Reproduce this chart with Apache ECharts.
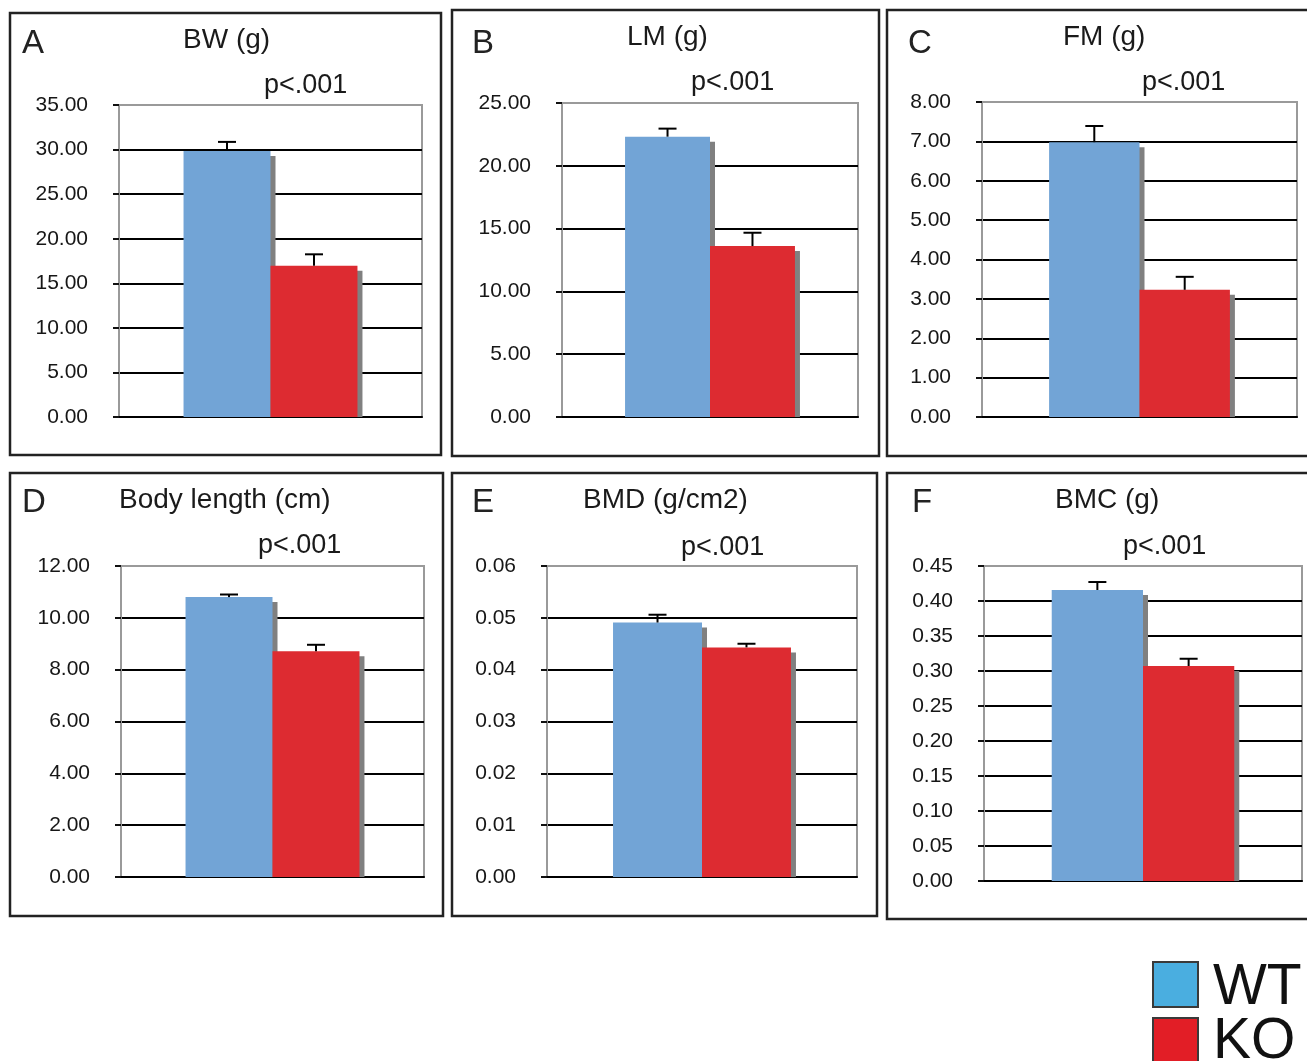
<!DOCTYPE html>
<html>
<head>
<meta charset="utf-8">
<script src="https://cdn.jsdelivr.net/npm/echarts@6/dist/echarts.min.js"></script>
<style>
html,body{margin:0;padding:0;background:#fff;}
#chart{width:1307px;height:1061px;}
</style>
</head>
<body>
<div id="chart"></div>
<script>
// ---- data ----
const panelLetters = ['A', 'B', 'C', 'D', 'E', 'F'];
const panelTitles = ['BW (g)', 'LM (g)', 'FM (g)', 'Body length (cm)', 'BMD (g/cm2)', 'BMC (g)'];
const pValueText = 'p<.001';
const groups = ['WT', 'KO'];
const wtMeans = [29.84, 22.32, 6.98, 10.80, 0.0491, 0.4157];
const wtErrors = [1.02, 0.64, 0.41, 0.10, 0.0015, 0.0114];
const koMeans = [16.97, 13.61, 3.23, 8.71, 0.0443, 0.3071];
const koErrors = [1.28, 1.06, 0.33, 0.25, 0.0007, 0.0104];
const yMaxes = [35, 25, 8, 12, 0.06, 0.45];
const yIntervals = [5, 5, 1, 2, 0.01, 0.05];

// ---- layout / style ----
const FONT = '"Liberation Sans", Arial, sans-serif';
const TXT = '#1a1a1a';
const WT_COLOR = '#72a4d6';
const KO_COLOR = '#dd2b31';
const SHADOW = '#808080';
const LEGEND_WT = '#4aaee0';
const LEGEND_KO = '#e21e26';
const BAR_FRAC = 0.287;

const grids = [
  {left: 119, top: 105, width: 303, height: 312},
  {left: 562, top: 103, width: 296, height: 314},
  {left: 982, top: 102, width: 315, height: 315},
  {left: 121, top: 566, width: 303, height: 311},
  {left: 547, top: 566, width: 310, height: 311},
  {left: 984, top: 566, width: 318, height: 315}
];
const boxes = [
  [10, 13, 431, 442], [452, 10, 427, 446], [887, 10, 440, 446],
  [10, 473, 433, 443], [452, 473, 425, 443], [887, 473, 440, 446]
];
const letterPos = [[22, 43.5], [472, 43.5], [908, 43.5], [22, 502.5], [472, 502.5], [912, 502.5]];
const titlePos = [[183, 40.5], [627, 37.5], [1063, 37.5], [119, 500.5], [583, 500.5], [1055, 500.5]];
const pPos = [[264, 85.5], [691, 82.5], [1142, 82.5], [258, 545.5], [681, 547.5], [1123, 546.5]];

function makeRender(slot, color) {
  return function (params, api) {
    const v = api.value(1), e = api.value(2);
    const base = api.coord([0, 0]);
    const top = api.coord([0, v]);
    const errTop = api.coord([0, v + e]);
    const band = api.size([1, 0])[0];
    const w = band * BAR_FRAC;
    const x0 = base[0] + (slot - 1) * w;
    const cx = x0 + w / 2;
    return {
      type: 'group',
      children: [
        {type: 'rect', shape: {x: x0 + 5, y: top[1] + 5, width: w, height: base[1] - top[1] - 5},
         style: {fill: SHADOW}},
        {type: 'rect', shape: {x: x0, y: top[1], width: w, height: base[1] - top[1]},
         style: {fill: color}},
        {type: 'line', shape: {x1: cx, y1: top[1], x2: cx, y2: errTop[1]},
         style: {stroke: '#000', lineWidth: 2}},
        {type: 'line', shape: {x1: cx - 9, y1: errTop[1], x2: cx + 9, y2: errTop[1]},
         style: {stroke: '#000', lineWidth: 2}}
      ]
    };
  };
}

const option = {
  backgroundColor: '#fff',
  animation: false,
  grid: grids.map(g => Object.assign({show: true, borderColor: '#9a9a9a', borderWidth: 2, backgroundColor: 'transparent'}, g)),
  xAxis: grids.map((g, i) => ({
    type: 'category', gridIndex: i, data: [''],
    axisLine: {show: true, lineStyle: {color: '#000', width: 2}},
    axisTick: {show: false}, axisLabel: {show: false}, splitLine: {show: false}
  })),
  yAxis: grids.map((g, i) => ({
    type: 'value', gridIndex: i, min: 0, max: yMaxes[i], interval: yIntervals[i],
    axisLine: {show: true, lineStyle: {color: '#9a9a9a', width: 2}},
    axisTick: {show: true, length: 6, lineStyle: {color: '#111', width: 2}},
    axisLabel: {
      margin: 31, fontSize: 21, color: '#161616', fontFamily: FONT,
      formatter: v => Number(v).toFixed(2)
    },
    splitLine: {show: true, showMinLine: false, showMaxLine: false, lineStyle: {color: '#000', width: 2}}
  })),
  series: [],
  graphic: []
};

for (let i = 0; i < 6; i++) {
  option.series.push({
    type: 'custom', name: groups[0], xAxisIndex: i, yAxisIndex: i,
    data: [[0, wtMeans[i], wtErrors[i]]], renderItem: makeRender(0, WT_COLOR), z: 2
  });
  option.series.push({
    type: 'custom', name: groups[1], xAxisIndex: i, yAxisIndex: i,
    data: [[0, koMeans[i], koErrors[i]]], renderItem: makeRender(1, KO_COLOR), z: 3
  });
  const b = boxes[i];
  option.graphic.push({type: 'rect', shape: {x: b[0], y: b[1], width: b[2], height: b[3]},
    style: {fill: 'none', stroke: '#222', lineWidth: 2.5}, z: 10});
  option.graphic.push({type: 'text', x: letterPos[i][0], y: letterPos[i][1],
    style: {text: panelLetters[i], font: '33px ' + FONT, fill: '#222', verticalAlign: 'middle', align: 'left'}, z: 10});
  option.graphic.push({type: 'text', x: titlePos[i][0], y: titlePos[i][1],
    style: {text: panelTitles[i], font: '28px ' + FONT, fill: TXT, verticalAlign: 'middle', align: 'left'}, z: 10});
  option.graphic.push({type: 'text', x: pPos[i][0], y: pPos[i][1],
    style: {text: pValueText, font: '27px ' + FONT, fill: TXT, verticalAlign: 'middle', align: 'left'}, z: 10});
}

// legend
option.graphic.push({type: 'rect', shape: {x: 1153, y: 962, width: 45, height: 45},
  style: {fill: LEGEND_WT, stroke: '#3a3a3a', lineWidth: 2}, z: 10});
option.graphic.push({type: 'rect', shape: {x: 1153, y: 1018, width: 45, height: 45},
  style: {fill: LEGEND_KO, stroke: '#3a3a3a', lineWidth: 2}, z: 10});
option.graphic.push({type: 'text', x: 1213, y: 988.5,
  style: {text: groups[0], font: '57px ' + FONT, fill: '#111', verticalAlign: 'middle', align: 'left'}, z: 10});
option.graphic.push({type: 'text', x: 1213, y: 1042.5,
  style: {text: groups[1], font: '57px ' + FONT, fill: '#111', verticalAlign: 'middle', align: 'left'}, z: 10});

const chart = echarts.init(document.getElementById('chart'), null, {renderer: 'canvas', width: 1307, height: 1061});
chart.setOption(option);
</script>
</body>
</html>
